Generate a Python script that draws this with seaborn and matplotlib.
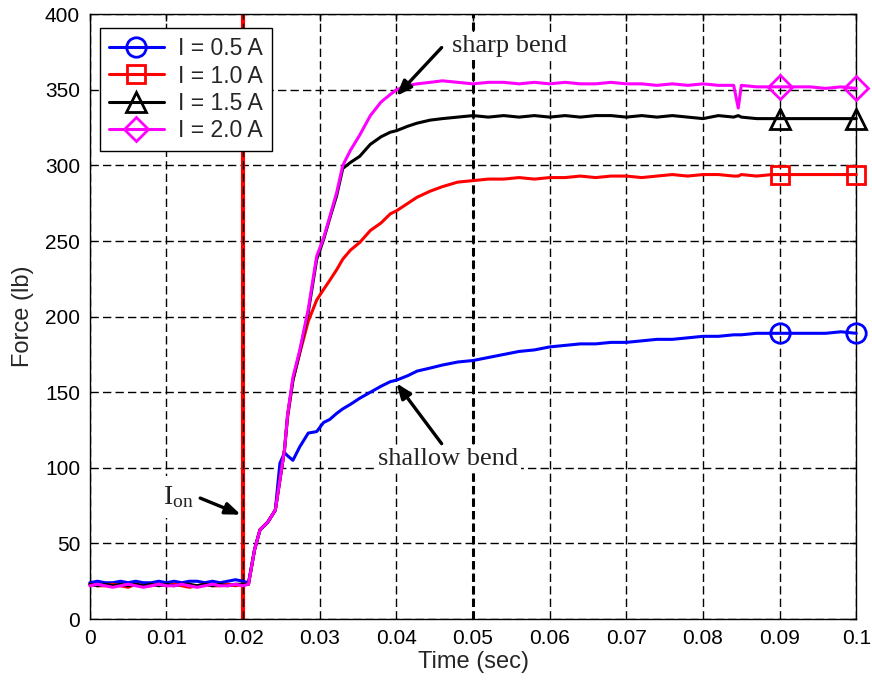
import matplotlib
matplotlib.use("Agg")
import matplotlib.pyplot as plt
import seaborn as sns
import pandas as pd

# ---------------- data ----------------
time_s = [0.000, 0.001, 0.002, 0.003, 0.004, 0.005, 0.006, 0.007, 0.008, 0.009,
          0.010, 0.011, 0.012, 0.013, 0.014, 0.015, 0.016, 0.017, 0.018, 0.019, 0.020,
          0.0207, 0.0215, 0.0222, 0.0232, 0.0242, 0.0248, 0.0254, 0.0258, 0.0265, 0.0274,
          0.0285, 0.0296, 0.0305, 0.0313, 0.0322, 0.0330, 0.0340, 0.0352, 0.0366, 0.0380,
          0.0392, 0.0400, 0.0415, 0.0427, 0.0444, 0.0460, 0.0480,
          0.050, 0.052, 0.054, 0.056, 0.058, 0.060, 0.062, 0.064, 0.066, 0.068,
          0.070, 0.072, 0.074, 0.076, 0.078, 0.080, 0.082, 0.084,
          0.0846, 0.0850, 0.0870, 0.0890, 0.0900, 0.0920, 0.0940, 0.0960, 0.0980, 0.1000]

force_05A = [24, 25, 24, 24, 25, 24, 25, 24, 24, 25, 24, 25, 24, 25, 25, 24, 25, 24, 25, 26, 25,
             24, 46, 59, 64, 72, 103, 110, 108, 105, 114, 123, 124, 130, 132, 136, 139, 142, 146,
             150, 154, 157, 158, 161, 164, 166, 168, 170,
             171, 173, 175, 177, 178, 180, 181, 182, 182, 183, 183, 184, 185, 185, 186, 187, 187, 188,
             188, 188, 189, 189, 189, 189, 189, 189, 190, 189]

force_10A = [23, 22, 22, 23, 22, 21, 23, 22, 22, 23, 22, 23, 22, 21, 22, 23, 22, 22, 23, 22, 23,
             23, 46, 59, 64, 72, 92, 112, 133, 158, 176, 197, 211, 218, 224, 231, 238, 244, 249,
             257, 262, 268, 270, 275, 279, 283, 286, 289,
             290, 291, 291, 292, 291, 292, 292, 293, 292, 293, 293, 292, 293, 294, 293, 294, 294, 293,
             293, 294, 293, 294, 294, 294, 294, 294, 294, 294]

force_15A = [23, 22, 23, 22, 23, 22, 23, 22, 23, 22, 23, 22, 23, 23, 22, 23, 22, 23, 22, 23, 23,
             23, 46, 59, 64, 72, 92, 112, 135, 158, 177, 203, 238, 251, 265, 280, 298, 302, 306,
             314, 319, 322, 323, 326, 328, 330, 331, 332,
             333, 332, 333, 332, 333, 332, 333, 332, 333, 333, 332, 333, 332, 333, 332, 331, 333, 332,
             333, 332, 331, 331, 331, 331, 331, 331, 331, 331]

force_20A = [22, 23, 22, 21, 22, 23, 22, 21, 22, 23, 22, 22, 23, 22, 21, 22, 23, 22, 22, 23, 22,
             23, 46, 59, 64, 72, 92, 112, 135, 160, 178, 205, 240, 252, 266, 282, 300, 310, 320,
             333, 342, 347, 350, 353, 354, 355, 356, 355,
             354, 355, 355, 354, 355, 354, 355, 354, 354, 355, 354, 354, 353, 354, 353, 354, 353, 353,
             338, 353, 352, 352, 352, 352, 352, 351, 352, 351]

series_labels = ["I = 0.5 A", "I = 1.0 A", "I = 1.5 A", "I = 2.0 A"]
marker_times = [0.09, 0.1]

x_ticks = [0, 0.01, 0.02, 0.03, 0.04, 0.05, 0.06, 0.07, 0.08, 0.09, 0.1]
x_ticklabels = ["0", "0.01", "0.02", "0.03", "0.04", "0.05", "0.06", "0.07", "0.08", "0.09", "0.1"]
y_ticks = [0, 50, 100, 150, 200, 250, 300, 350, 400]
y_ticklabels = ["0", "50", "100", "150", "200", "250", "300", "350", "400"]

# ---------------- figure ----------------
sns.set_style("white")
plt.rcParams["font.family"] = ["Liberation Sans", "DejaVu Sans"]
plt.rcParams["mathtext.fontset"] = "custom"
plt.rcParams["mathtext.rm"] = "Liberation Serif"

fig, ax = plt.subplots(figsize=(8.72, 6.81), dpi=100)
fig.subplots_adjust(left=0.103, right=0.982, top=0.979, bottom=0.091)

df = pd.DataFrame({
    "Time": time_s * 4,
    "Force": force_05A + force_10A + force_15A + force_20A,
    "Series": [s for s in series_labels for _ in time_s],
})

colors = ["#0000ff", "#ff0000", "#000000", "#ff00ff"]
markers = ["o", "s", "^", "D"]
msizes = [14, 13, 15, 12]
mark_idx = [time_s.index(t) for t in marker_times]

# grid
ax.grid(True, color="black", linestyle=(0, (6, 3)), linewidth=1.0)
ax.set_axisbelow(True)

# red "I on" line and bold dashed line at 0.05
ax.axvline(0.02, color="#ff0000", lw=3.0, zorder=1.5)
ax.axvline(0.02, color="black", lw=1.0, ls=(0, (6, 3)), zorder=1.6)
ax.axvline(0.05, color="black", lw=2.2, ls=(0, (2.7, 1.4)), zorder=1.6)

for lab, col, mk, ms in zip(series_labels, colors, markers, msizes):
    sub = df[df["Series"] == lab]
    sns.lineplot(data=sub, x="Time", y="Force", ax=ax, color=col, lw=2.2,
                 marker=mk, markevery=mark_idx, markersize=ms, markerfacecolor="none",
                 markeredgecolor=col, markeredgewidth=2.0, label=lab,
                 estimator=None, sort=False, zorder=3, clip_on=False)

ax.set_xlim(0, 0.1)
ax.set_ylim(0, 400)
ax.set_xticks(x_ticks)
ax.set_xticklabels(x_ticklabels)
ax.set_yticks(y_ticks)
ax.set_yticklabels(y_ticklabels)
ax.tick_params(direction="in", top=True, right=True, length=5, width=1,
               labelsize=15, pad=7, colors="black")
for sp in ax.spines.values():
    sp.set_color("black")
    sp.set_linewidth(1.0)

ax.set_xlabel("Time (sec)", fontsize=17, labelpad=2)
ax.set_ylabel("Force (lb)", fontsize=17, labelpad=8)

leg = ax.legend(loc="upper left", bbox_to_anchor=(0.013, 0.977), borderaxespad=0,
                fontsize=16.5, frameon=True, fancybox=False, framealpha=1,
                edgecolor="black", handlelength=2.4, handletextpad=0.6,
                labelspacing=0.18, borderpad=0.4)
leg.get_frame().set_linewidth(1.0)
leg.set_zorder(10)

arrow = dict(arrowstyle="-|>,head_length=0.9,head_width=0.35", lw=2.4,
             color="black", shrinkA=0, shrinkB=0)
serif = "Liberation Serif"
wbox = dict(facecolor="white", edgecolor="none", pad=2)
ax.text(0.0473, 375, "sharp bend", fontsize=19, family=serif, ha="left",
        va="baseline", color="#222222", bbox=wbox, zorder=2)
ax.annotate("", xy=(0.0400, 346), xytext=(0.0459, 378), arrowprops=arrow, zorder=4)
ax.text(0.0376, 102, "shallow bend", fontsize=19, family=serif, ha="left",
        va="baseline", color="#222222", bbox=wbox, zorder=2)
ax.annotate("", xy=(0.0400, 156), xytext=(0.0459, 116), arrowprops=arrow, zorder=4)
ax.text(0.0095, 76, r"$\mathregular{I_{on}}$", fontsize=20, family=serif,
        ha="left", va="baseline", color="#222222",
        bbox=dict(facecolor="white", edgecolor="none", pad=6), zorder=2)
ax.annotate("", xy=(0.0197, 69), xytext=(0.0144, 80), arrowprops=arrow, zorder=4)

fig.savefig("out.png", dpi=100)
